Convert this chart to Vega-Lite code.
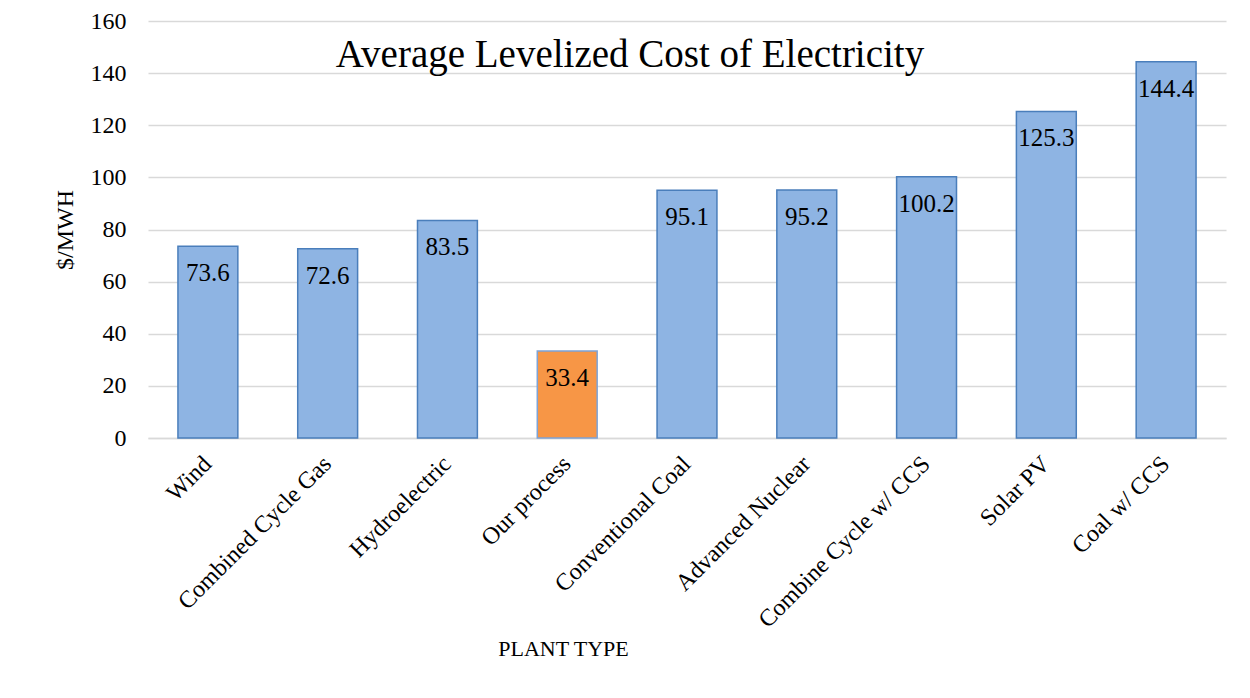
{
  "$schema": "https://vega.github.io/schema/vega-lite/v6.json",
  "autosize": "none",
  "width": 1078,
  "height": 417,
  "padding": {"left": 148, "top": 21, "right": 24, "bottom": 260},
  "background": "white",
  "config": {
    "font": "Liberation Serif",
    "view": {"stroke": null}
  },
  "title": {
    "text": "Average Levelized Cost of Electricity",
    "fontSize": 39,
    "fontWeight": "normal",
    "color": "#000000",
    "font": "Liberation Serif",
    "anchor": "middle",
    "frame": "group",
    "dx": -57,
    "offset": -66
  },
  "data": {
    "values": [
      {"plant": "Wind", "cost": 73.6, "group": "other"},
      {"plant": "Combined Cycle Gas", "cost": 72.6, "group": "other"},
      {"plant": "Hydroelectric", "cost": 83.5, "group": "other"},
      {"plant": "Our process", "cost": 33.4, "group": "ours"},
      {"plant": "Conventional Coal", "cost": 95.1, "group": "other"},
      {"plant": "Advanced Nuclear", "cost": 95.2, "group": "other"},
      {"plant": "Combine Cycle w/ CCS", "cost": 100.2, "group": "other"},
      {"plant": "Solar PV", "cost": 125.3, "group": "other"},
      {"plant": "Coal w/ CCS", "cost": 144.4, "group": "other"}
    ]
  },
  "encoding": {
    "x": {
      "field": "plant",
      "type": "nominal",
      "sort": null,
      "scale": {"paddingInner": 0.5, "paddingOuter": 0.25},
      "axis": {
        "title": "PLANT TYPE",
        "titleFont": "Liberation Serif",
        "titleFontSize": 22,
        "titleFontWeight": "normal",
        "titleColor": "#000000",
        "titleX": 415,
        "titleY": 210,
        "titleBaseline": "middle",
        "labelAngle": -45,
        "labelAlign": "right",
        "labelBaseline": "middle",
        "labelFontSize": 24,
        "labelLimit": 400,
        "labelColor": "#000000",
        "labelPadding": 22,
        "ticks": false,
        "domain": true,
        "domainColor": "#d9d9d9",
        "domainWidth": 1.5,
        "grid": false
      }
    },
    "y": {
      "field": "cost",
      "type": "quantitative",
      "scale": {"domain": [0, 160]},
      "axis": {
        "title": "$/MWH",
        "titleFont": "Liberation Serif",
        "titleFontSize": 24,
        "titleFontWeight": "normal",
        "titleColor": "#000000",
        "titlePadding": 13,
        "values": [0, 20, 40, 60, 80, 100, 120, 140, 160],
        "labelFontSize": 24,
        "labelColor": "#000000",
        "labelPadding": 22,
        "ticks": false,
        "domain": false,
        "grid": true,
        "gridColor": "#d9d9d9",
        "gridWidth": 1.5
      }
    }
  },
  "layer": [
    {
      "mark": {"type": "bar", "strokeWidth": 1.5},
      "encoding": {
        "color": {
          "field": "group",
          "type": "nominal",
          "scale": {"domain": ["other", "ours"], "range": ["#8eb4e3", "#f79646"]},
          "legend": null
        },
        "stroke": {
          "field": "group",
          "type": "nominal",
          "scale": {"domain": ["other", "ours"], "range": ["#4a7ebb", "#7ea3d6"]},
          "legend": null
        }
      }
    },
    {
      "mark": {"type": "text", "baseline": "middle", "dy": 27, "fontSize": 25, "color": "#000000", "font": "Liberation Serif"},
      "encoding": {
        "text": {"field": "cost", "type": "quantitative", "format": ".1f"}
      }
    }
  ]
}
